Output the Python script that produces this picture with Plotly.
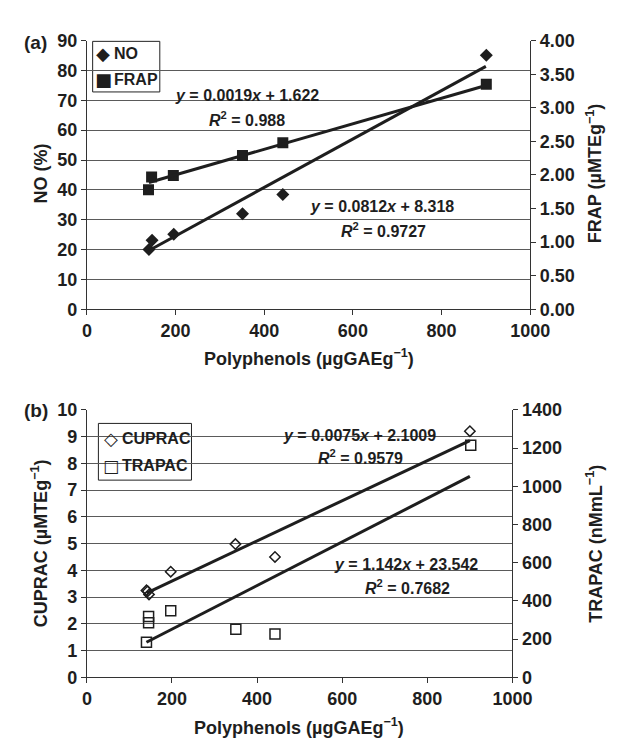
import plotly.graph_objects as go

W, H = 618, 738

# ---------------- data: panel (a) ----------------
no_x = [140, 147, 196, 351, 442, 901]
no_y = [20.0, 23.1, 25.1, 32.0, 38.4, 85.1]
frap_x = [139, 146, 195, 351, 442, 901]
frap_y = [1.78, 1.97, 1.99, 2.29, 2.48, 3.35]
no_fit = [0.0812, 8.318]        # slope, intercept
frap_fit = [0.0019, 1.622]
fit_range_a = [140, 900]

# ---------------- data: panel (b) ----------------
cup_x = [140, 143, 146, 197, 349, 442, 900]
cup_y = [3.25, 3.22, 3.10, 3.95, 4.98, 4.50, 9.20]
tra_x = [140, 145, 145, 197, 350, 442, 902]
tra_y = [184, 285, 318, 349, 252, 227, 1215]
cup_fit = [0.0075, 2.1009]
tra_fit = [1.142, 23.542]
fit_range_b = [140, 900]

x_ticks = [0, 200, 400, 600, 800, 1000]

FONT = "Liberation Sans, Arial, sans-serif"
INK = "#1e1e1e"


def px(x):
    return x / W


def py(y):
    return 1 - y / H


def fit_line(coef, xr):
    return [coef[0] * v + coef[1] for v in xr]


fig = go.Figure()

# panel (a) markers
fig.add_trace(go.Scatter(x=no_x, y=no_y, mode="markers", name="NO",
                         xaxis="x", yaxis="y",
                         marker=dict(symbol="diamond", size=10, color=INK)))
fig.add_trace(go.Scatter(x=frap_x, y=frap_y, mode="markers", name="FRAP",
                         xaxis="x", yaxis="y2",
                         marker=dict(symbol="square", size=11, color=INK)))
# panel (a) trend lines
fig.add_trace(go.Scatter(x=fit_range_a, y=fit_line(no_fit, fit_range_a), mode="lines",
                         xaxis="x", yaxis="y", line=dict(color=INK, width=3)))
fig.add_trace(go.Scatter(x=fit_range_a, y=fit_line(frap_fit, fit_range_a), mode="lines",
                         xaxis="x", yaxis="y2", line=dict(color=INK, width=3)))

# panel (b) markers
fig.add_trace(go.Scatter(x=cup_x, y=cup_y, mode="markers", name="CUPRAC",
                         xaxis="x2", yaxis="y3",
                         marker=dict(symbol="diamond-open", size=8, color=INK,
                                     line=dict(width=1.5, color=INK))))
fig.add_trace(go.Scatter(x=tra_x, y=tra_y, mode="markers", name="TRAPAC",
                         xaxis="x2", yaxis="y4",
                         marker=dict(symbol="square-open", size=10, color=INK,
                                     line=dict(width=1.5, color=INK))))
fig.add_trace(go.Scatter(x=fit_range_b, y=fit_line(cup_fit, fit_range_b), mode="lines",
                         xaxis="x2", yaxis="y3", line=dict(color=INK, width=3)))
fig.add_trace(go.Scatter(x=fit_range_b, y=fit_line(tra_fit, fit_range_b), mode="lines",
                         xaxis="x2", yaxis="y4", line=dict(color=INK, width=3)))

tickfont = dict(family=FONT, size=18, color=INK, weight="bold")
axis_common = dict(showline=True, linecolor="#333333", linewidth=1, ticks="outside",
                   ticklen=5, tickcolor="#333333", tickwidth=1, zeroline=False,
                   tickfont=tickfont, fixedrange=True)
grid = dict(showgrid=True, gridcolor="#5a5a5a", gridwidth=1)

dom_a_x = [px(77), px(539)]
dom_a_y = [py(299.3), py(23.3)]
dom_b_x = [px(77), px(520.5)]
dom_b_y = [py(677.7), py(402.7)]

fig.update_layout(
    width=W, height=H,
    margin=dict(l=0, r=0, t=0, b=0),
    paper_bgcolor="white", plot_bgcolor="white",
    showlegend=False,
    xaxis=dict(domain=dom_a_x, anchor="y", range=[0, 1000], tickvals=x_ticks,
               showgrid=False, **axis_common),
    yaxis=dict(domain=dom_a_y, anchor="x", range=[0, 90], dtick=10, **grid, **axis_common),
    yaxis2=dict(overlaying="y", anchor="x", side="right", range=[0, 4], dtick=0.5,
                tickformat=".2f", showgrid=False, **axis_common),
    xaxis2=dict(domain=dom_b_x, anchor="y3", range=[0, 1000], tickvals=x_ticks,
                showgrid=False, **axis_common),
    yaxis3=dict(domain=dom_b_y, anchor="x2", range=[0, 10], dtick=1, **grid, **axis_common),
    yaxis4=dict(overlaying="y3", anchor="x2", side="right", range=[0, 1400], dtick=200,
                showgrid=False, **axis_common),
)

ann = []


def text(x, y, s, size=16, xanchor="center", angle=0, family=FONT):
    ann.append(dict(x=px(x), y=py(y), xref="paper", yref="paper", text=s,
                    showarrow=False, xanchor=xanchor, yanchor="middle",
                    textangle=angle,
                    font=dict(family=family, size=size, color=INK, weight="bold")))


# panel labels
text(9, 25, "(a)", size=19, xanchor="left")
text(9, 403, "(b)", size=19, xanchor="left")

# axis titles
text(308, 349, "Polyphenols (µgGAEg<sup>−1</sup>)", size=18)
text(298.5, 728, "Polyphenols (µgGAEg<sup>−1</sup>)", size=18)
text(29, 160, "NO (%)", size=18, angle=-90)
text(606, 160, "FRAP (µMTEg<sup>−1</sup>)", size=18, angle=-90)
text(28, 540, "CUPRAC (µMTEg<sup>−1</sup>)", size=18, angle=-90)
text(606, 540, "TRAPAC (nMmL<sup>−1</sup>)", size=18, angle=-90)

# regression equations
text(244, 80, "<i>y</i> = 0.0019<i>x</i> + 1.622")
text(244, 104, "<i>R</i><sup>2</sup> = 0.988")
text(385, 194, "<i>y</i> = 0.0812<i>x</i> + 8.318")
text(386, 217.7, "<i>R</i><sup>2</sup> = 0.9727")
text(361, 429.3, "<i>y</i> = 0.0075<i>x</i> + 2.1009")
text(362.5, 451.7, "<i>R</i><sup>2</sup> = 0.9579")
text(410, 561.7, "<i>y</i> = 1.142<i>x</i> + 23.542")
text(411, 585, "<i>R</i><sup>2</sup> = 0.7682")

# legends (boxed)
GLYPH = "DejaVu Sans"
text(94, 37, "◆", size=18, family=GLYPH)
text(103, 37, "NO", size=16, xanchor="left")
text(94, 62.7, "■", size=18, family=GLYPH)
text(103, 62.7, "FRAP", size=16, xanchor="left")

text(102.5, 431.7, "◇", size=18, family=GLYPH)
text(112, 431.7, "CUPRAC", size=16, xanchor="left")
text(102.5, 460, "□", size=17, family=GLYPH)
text(112, 460, "TRAPAC", size=16, xanchor="left")

fig.update_layout(annotations=ann)

fig.update_layout(shapes=[
    dict(type="rect", xref="paper", yref="paper", x0=px(83), x1=px(153), y0=py(76), y1=py(24),
         line=dict(color="#222222", width=1), fillcolor="white", layer="below"),
    dict(type="rect", xref="paper", yref="paper", x0=px(89), x1=px(186), y0=py(475), y1=py(416.7),
         line=dict(color="#222222", width=1), fillcolor="white", layer="below"),
])

fig.write_html("out.html")
